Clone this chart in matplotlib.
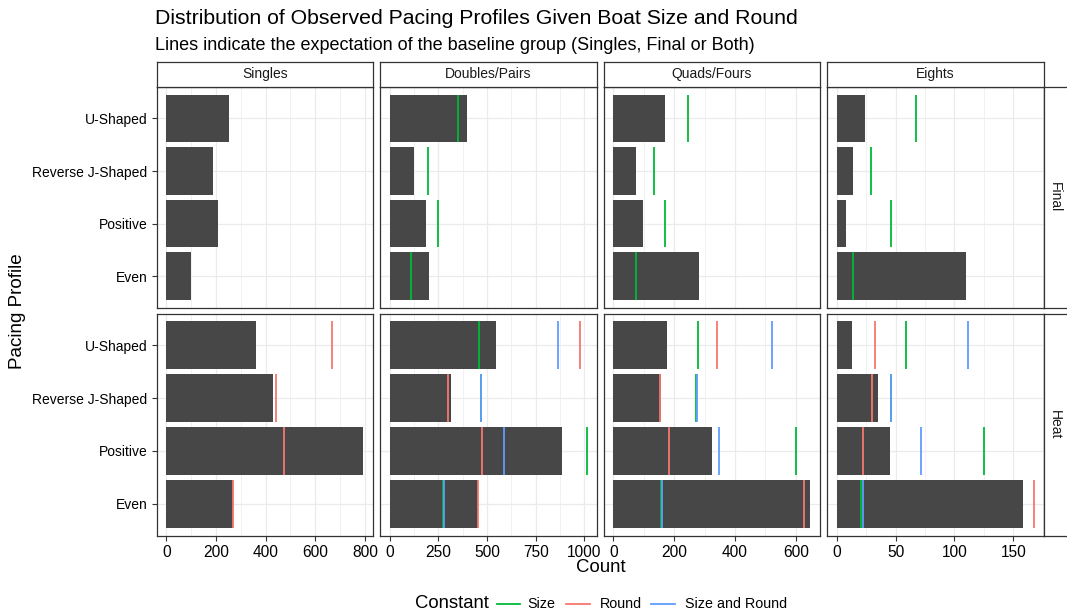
import matplotlib
matplotlib.use("Agg")
import matplotlib.pyplot as plt
from matplotlib.ticker import MultipleLocator
from matplotlib.lines import Line2D

plt.rcParams['font.family'] = ['Liberation Sans', 'DejaVu Sans']

boat_sizes = ["Singles", "Doubles/Pairs", "Quads/Fours", "Eights"]
rounds = ["Final", "Heat"]
profiles = ["U-Shaped", "Reverse J-Shaped", "Positive", "Even"]

# Observed counts: one row per boat size, columns follow `profiles`
final_counts = [
    [251, 186, 208, 101],
    [397, 126, 188, 200],
    [171, 76, 99, 280],
    [23.6, 13.9, 8, 109.4],
]
heat_counts = [
    [361, 430, 793, 268],
    [547, 316, 883, 453],
    [176, 158, 323, 647],
    [12.8, 34.7, 44.9, 158.2],
]

# Expected counts under each constant (None = baseline group, no line)
final_size = [None, [353, 198, 248, 110], [244, 135, 170, 76], [67.3, 29.3, 46, 13.6]]
heat_size = [None, [457, 469, 1012, 271], [277, 273, 599, 157], [59, 46, 125, 20.7]]
heat_round = [[668, 442, 473, 270], [976, 300, 474, 452], [342, 153, 183, 626],
              [32.4, 29.8, 22.2, 167.3]]
heat_both = [None, [866, 471, 588, 278], [523, 274, 347, 161], [111.6, 46.3, 71.9, 21.9]]

constant_labels = ["Size", "Round", "Size and Round"]
constant_colors = ["#00BA38", "#F8766D", "#619CFF"]
major_steps = [200, 250, 200, 50]

W, H = 1067, 616
fig = plt.figure(figsize=(W / 100, H / 100), dpi=100)
fig.patch.set_facecolor("white")

col_x = [156.5, 380, 603.5, 827]
col_w = 216.5
row_y = [(87, 307.5), (313.5, 535.5)]
strip_top = 61.5
strip_right_w = 26

border = "#333333"
grid = "#EBEBEB"


def px_axes(x0, y0, x1, y1):
    return fig.add_axes([x0 / W, 1 - y1 / H, (x1 - x0) / W, (y1 - y0) / H])


def col_max(j):
    vals = list(final_counts[j]) + list(heat_counts[j]) + list(heat_round[j])
    for s in (final_size, heat_size, heat_both):
        if s[j] is not None:
            vals += list(s[j])
    return max(vals)


ypos = [len(profiles) - i for i in range(len(profiles))]

for r, rnd in enumerate(rounds):
    counts = final_counts if r == 0 else heat_counts
    lines = ([final_size, None, None] if r == 0 else [heat_size, heat_round, heat_both])
    for j, boat in enumerate(boat_sizes):
        y0, y1 = row_y[r]
        ax = px_axes(col_x[j], y0, col_x[j] + col_w, y1)
        m = col_max(j)
        ax.set_xlim(-0.05 * m, 1.05 * m)
        ax.set_ylim(0.4, len(profiles) + 0.6)
        ax.xaxis.set_major_locator(MultipleLocator(major_steps[j]))
        ax.xaxis.set_minor_locator(MultipleLocator(major_steps[j] / 2))
        ax.set_yticks(ypos)
        ax.grid(True, which="major", color=grid, lw=0.9, zorder=0)
        ax.grid(True, which="minor", axis="x", color=grid, lw=0.5, zorder=0)
        ax.set_axisbelow(True)

        ax.barh(ypos, counts[j], height=0.9, color="#474747", zorder=2)
        for k, series in enumerate(lines):
            if series is None or series[j] is None:
                continue
            ax.vlines(series[j], [y - 0.45 for y in ypos], [y + 0.45 for y in ypos],
                      color=constant_colors[k], lw=1.3, zorder=3 + k)

        for sp in ax.spines.values():
            sp.set_color(border)
            sp.set_linewidth(0.9)
        ax.tick_params(which="both", length=0)
        ax.tick_params(which="major", length=3.5, width=0.8, color=border,
                       labelsize=11.2, labelcolor="black", pad=3)
        if j == 0:
            ax.set_yticklabels(profiles, fontsize=10)
        else:
            ax.tick_params(axis="y", which="major", length=0, labelleft=False)
        if r == 0:
            ax.tick_params(axis="x", which="major", length=0, labelbottom=False)

        # facet strips
        if r == 0:
            st = px_axes(col_x[j], strip_top, col_x[j] + col_w, y0)
            st.set_xticks([]); st.set_yticks([])
            for sp in st.spines.values():
                sp.set_color(border); sp.set_linewidth(0.9)
            st.text(0.5, 0.5, boat, ha="center", va="center", fontsize=10,
                    color="#1A1A1A", transform=st.transAxes)
        if j == len(boat_sizes) - 1:
            x_end = col_x[j] + col_w
            st = px_axes(x_end, y0, x_end + strip_right_w, y1)
            st.set_xticks([]); st.set_yticks([])
            for sp in st.spines.values():
                sp.set_color(border); sp.set_linewidth(0.9)
            st.text(0.45, 0.5, rnd, ha="center", va="center", rotation=-90,
                    fontsize=10, color="#1A1A1A", transform=st.transAxes)

# titles
fig.text(155 / W, 1 - 18 / H, "Distribution of Observed Pacing Profiles Given Boat Size and Round",
         fontsize=15.3, va="center", ha="left", color="black")
fig.text(155 / W, 1 - 45 / H,
         "Lines indicate the expectation of the baseline group (Singles, Final or Both)",
         fontsize=13, va="center", ha="left", color="black")
fig.text(601 / W, 1 - 568 / H, "Count", fontsize=13.4, ha="center", va="center")
fig.text(18 / W, 1 - 311 / H, "Pacing Profile", fontsize=13.6, ha="center", va="center",
         rotation=90)

# legend
ly = 1 - 604 / H
fig.text(415 / W, ly, "Constant", fontsize=13.3, ha="left", va="center")
key_x = [(497, 520, 527), (566, 590, 600), (651, 675, 685)]
for (a, b, t), lab, col in zip(key_x, constant_labels, constant_colors):
    fig.add_artist(Line2D([a / W, b / W], [ly, ly], color=col, lw=1.3,
                          transform=fig.transFigure))
    fig.text(t / W, ly, lab, fontsize=10.3, ha="left", va="center")

fig.savefig("out.png", dpi=100, facecolor="white")
